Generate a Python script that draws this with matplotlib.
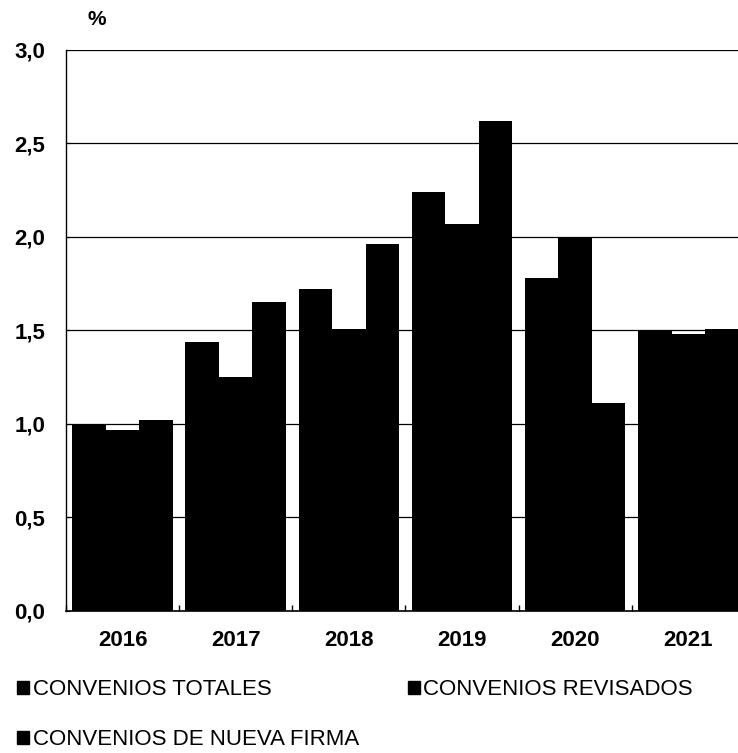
import numpy as np
import matplotlib
matplotlib.use("Agg")
import matplotlib.pyplot as plt
from matplotlib.patches import Patch

plt.rcParams['font.family'] = ['Liberation Sans', 'DejaVu Sans']

# data
years = ["2016", "2017", "2018", "2019", "2020", "2021"]
totales = [1.00, 1.44, 1.72, 2.24, 1.78, 1.50]
revisados = [0.97, 1.25, 1.51, 2.07, 2.00, 1.48]
nueva_firma = [1.02, 1.65, 1.96, 2.62, 1.11, 1.51]
series_names = ["CONVENIOS TOTALES", "CONVENIOS REVISADOS", "CONVENIOS DE NUEVA FIRMA"]
yticks = [0.0, 0.5, 1.0, 1.5, 2.0, 2.5, 3.0]

fig = plt.figure(figsize=(7.38, 7.53), dpi=100)
ax = fig.add_axes([0.0894, 0.1886, 0.92, 0.745])

x = np.arange(len(years))
w = 0.296
ax.bar(x - w, totales, w, color="black", zorder=3)
ax.bar(x, revisados, w, color="black", zorder=3)
ax.bar(x + w, nueva_firma, w, color="black", zorder=3)

ax.set_xlim(-0.5, len(years) - 0.5)
ax.set_ylim(0, 3.0)
ax.set_yticks(yticks)
ax.set_yticklabels([f"{v:.1f}".replace(".", ",") for v in yticks],
                   fontsize=16, fontweight="bold")
ax.set_xticks(x)
ax.set_xticklabels(years, fontsize=16, fontweight="bold")
# small ticks at group boundaries
ax.set_xticks(np.arange(len(years) + 1) - 0.5, minor=True)
ax.tick_params(axis="x", which="major", length=0, pad=14)
ax.tick_params(axis="x", which="minor", direction="in", length=4, width=1)
ax.tick_params(axis="y", direction="in", length=3, pad=15)

ax.grid(axis="y", color="black", linewidth=0.9, zorder=0)
for s in ["top", "right"]:
    ax.spines[s].set_visible(False)
ax.spines["left"].set_linewidth(1.0)
ax.spines["bottom"].set_linewidth(1.2)

fig.text(0.131, 0.974, "%", fontsize=15, fontweight="bold", ha="center", va="center")

handles = [Patch(color="black", label=series_names[0]),
           Patch(color="black", label=series_names[2]),
           Patch(color="black", label=series_names[1])]
fig.legend(handles=handles, ncol=2, loc="upper left", bbox_to_anchor=(0.023, 0.098),
           frameon=False, fontsize=16, handlelength=0.55, handleheight=0.55,
           handletextpad=0.15, columnspacing=2.2, labelspacing=1.3, borderaxespad=0,
           borderpad=0)

fig.savefig("out.png", dpi=100)
